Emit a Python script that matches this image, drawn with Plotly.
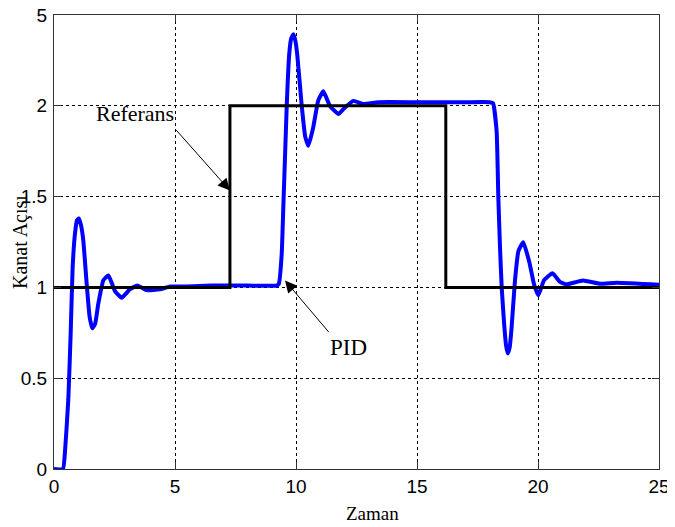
import plotly.graph_objects as go

# Reference (step input)
ref_t = [0, 7.27, 7.27, 16.19, 16.19, 25]
ref_y = [1, 1, 2, 2, 1, 1]

# PID response
pid_t = [0, 0.37, 0.45, 0.59, 0.69, 0.77, 0.87, 0.95, 1.03, 1.12, 1.21, 1.35, 1.47, 1.58, 1.70, 1.83,
         2.04, 2.25, 2.52, 2.80, 3.14, 3.44, 3.83, 4.38, 4.8, 5.5, 6.5, 7.3, 8.0, 9.2, 9.29,
         9.41, 9.48, 9.55, 9.62, 9.72, 9.80, 9.89, 9.97, 10.05, 10.23, 10.38, 10.51, 10.71,
         10.92, 11.13, 11.4, 11.75, 12.02, 12.37, 12.78, 13.4, 15, 17, 18.0, 18.14, 18.29,
         18.36, 18.43, 18.5, 18.6, 18.68, 18.75, 18.83, 18.91, 19.05, 19.19, 19.39, 19.64,
         19.83, 20.01, 20.25, 20.6, 20.91, 21.18, 21.85, 22.56, 23.25, 25]
pid_y = [0, 0, 0.088, 0.38, 0.75, 1.11, 1.30, 1.37, 1.38, 1.34, 1.26, 1.02, 0.84, 0.775, 0.80, 0.91,
         1.04, 1.066, 0.98, 0.943, 0.99, 1.01, 0.985, 0.99, 1.005, 1.005, 1.01, 1.01, 1.01, 1.01, 1.02,
         1.185, 1.46, 1.735, 2.01, 2.284, 2.37, 2.394, 2.36, 2.284, 2.01, 1.83, 1.78, 1.88,
         2.03, 2.08, 2.0, 1.955, 1.99, 2.027, 2.01, 2.02, 2.02, 2.02, 2.02, 2.015, 1.86,
         1.50, 1.22, 1.0, 0.80, 0.68, 0.636, 0.67, 0.78, 1.04, 1.20, 1.249, 1.14,
         1.02, 0.956, 1.04, 1.078, 1.03, 1.017, 1.038, 1.02, 1.026, 1.015]

x_ticks = [0, 5, 10, 15, 20, 25]
y_ticks = [0, 0.5, 1, 1.5, 2, 2.5]
y_ticktext = ["0", "0.5", "1", "1.5", "2", "5"]

fig = go.Figure()
fig.add_trace(go.Scatter(x=pid_t, y=pid_y, mode="lines",
                         line=dict(color="#0000FF", width=4, shape="spline", smoothing=0.4),
                         showlegend=False))
fig.add_trace(go.Scatter(x=ref_t, y=ref_y, mode="lines",
                         line=dict(color="black", width=3),
                         showlegend=False))

axis_common = dict(showline=True, linecolor="#333333", linewidth=1, mirror="ticks",
                   ticks="inside", ticklen=7, tickcolor="#333333",
                   showgrid=True, gridcolor="black", gridwidth=1, griddash="3px,3px",
                   zeroline=False, automargin=False, ticklabeloverflow="allow",
                   tickfont=dict(family="Liberation Sans, Arial", size=19, color="black"))

fig.update_xaxes(range=[0, 25], tickvals=x_ticks, **axis_common)
fig.update_yaxes(range=[0, 2.5], tickvals=y_ticks, ticktext=y_ticktext, ticklabelstandoff=2, **axis_common)

serif = "Liberation Serif, Times New Roman"
fig.update_layout(
    width=667, height=519,
    margin=dict(l=46, r=16, t=7, b=58),
    plot_bgcolor="white", paper_bgcolor="white",
    annotations=[
        dict(text="Zaman", xref="paper", yref="paper", x=0.526, y=0, yshift=-44,
             xanchor="center", yanchor="middle",
             showarrow=False, font=dict(family=serif, size=19, color="black")),
        dict(text="Kanat Açısı", xref="paper", yref="paper", x=0, xshift=-34, y=0.5,
             xanchor="center", yanchor="middle",
             textangle=-90, showarrow=False, font=dict(family=serif, size=20, color="black")),
        dict(text="Referans", x=3.35, y=1.956, showarrow=False,
             font=dict(family=serif, size=22, color="black")),
        dict(text="PID", x=12.15, y=0.67, showarrow=False,
             font=dict(family=serif, size=23, color="black")),
        dict(text="", x=7.27, y=1.533, ax=-55, ay=-62, showarrow=True,
             arrowhead=2, arrowsize=2.4, arrowwidth=1, arrowcolor="black"),
        dict(text="", x=9.545, y=1.038, ax=45, ay=53, showarrow=True,
             arrowhead=2, arrowsize=2.4, arrowwidth=1, arrowcolor="black"),
    ],
)

fig.write_html("out.html")
